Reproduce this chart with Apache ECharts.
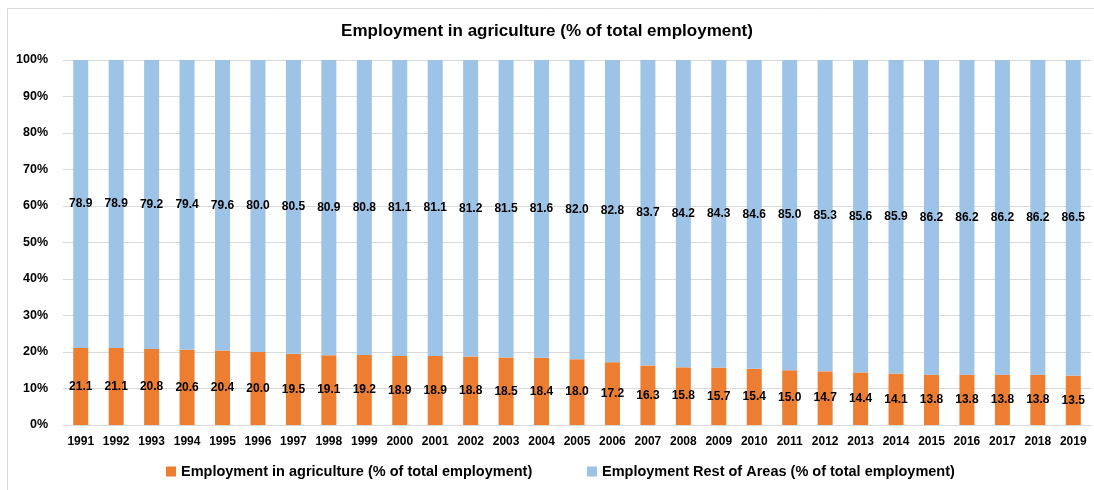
<!DOCTYPE html>
<html>
<head>
<meta charset="utf-8">
<script src="https://cdn.jsdelivr.net/npm/echarts@6/dist/echarts.min.js"></script>
<style>
  html, body { margin: 0; padding: 0; background: #ffffff; }
  #chart { width: 1094px; height: 490px; }
</style>
</head>
<body>
<div id="chart"></div>
<script>
// Years on the category axis
const years = ['1991','1992','1993','1994','1995','1996','1997','1998','1999','2000',
  '2001','2002','2003','2004','2005','2006','2007','2008','2009','2010',
  '2011','2012','2013','2014','2015','2016','2017','2018','2019'];

// Share of employment in agriculture (%)
const agriculture = [21.1, 21.1, 20.8, 20.6, 20.4, 20.0, 19.5, 19.1, 19.2, 18.9,
  18.9, 18.8, 18.5, 18.4, 18.0, 17.2, 16.3, 15.8, 15.7, 15.4,
  15.0, 14.7, 14.4, 14.1, 13.8, 13.8, 13.8, 13.8, 13.5];

// Share of employment in all other areas (%)
const restOfAreas = [78.9, 78.9, 79.2, 79.4, 79.6, 80.0, 80.5, 80.9, 80.8, 81.1,
  81.1, 81.2, 81.5, 81.6, 82.0, 82.8, 83.7, 84.2, 84.3, 84.6,
  85.0, 85.3, 85.6, 85.9, 86.2, 86.2, 86.2, 86.2, 86.5];

const seriesNames = [
  'Employment in agriculture (% of total employment)',
  'Employment Rest of Areas (% of total employment)'
];

const FONT = '"Liberation Sans", Arial, sans-serif';

const chart = echarts.init(document.getElementById('chart'), null, { renderer: 'canvas' });

const labelStyle = {
  show: true,
  position: 'inside',
  color: '#000000',
  fontFamily: FONT,
  fontWeight: 'bold',
  fontSize: 12,
  formatter: p => Number(p.value).toFixed(1)
};

const legendText = { fontFamily: FONT, fontWeight: 'bold', fontSize: 14.5, color: '#000000' };

chart.setOption({
  animation: false,
  backgroundColor: '#ffffff',
  graphic: [{
    type: 'rect',
    shape: { x: 7.5, y: 8.5, width: 1200, height: 600 },
    style: { fill: 'none', stroke: '#d9d9d9', lineWidth: 1 },
    silent: true,
    z: -1
  }],
  title: {
    text: 'Employment in agriculture (% of total employment)',
    left: 'center',
    top: 23,
    padding: 0,
    textStyle: { fontFamily: FONT, fontWeight: 'bold', fontSize: 17, color: '#000000' }
  },
  legend: [
    {
      data: [seriesNames[0]],
      left: 166, top: 464, padding: 0,
      icon: 'rect', itemWidth: 10, itemHeight: 10,
      textStyle: legendText
    },
    {
      data: [seriesNames[1]],
      left: 587, top: 464, padding: 0,
      icon: 'rect', itemWidth: 10, itemHeight: 10,
      textStyle: legendText
    }
  ],
  grid: { left: 63, right: 3, top: 60, bottom: 65, containLabel: false },
  xAxis: {
    type: 'category',
    data: years,
    axisTick: { show: false },
    axisLine: { show: true, lineStyle: { color: '#d9d9d9', width: 1 } },
    axisLabel: {
      interval: 0, margin: 11,
      fontFamily: FONT, fontWeight: 'bold', fontSize: 12, color: '#000000'
    }
  },
  yAxis: {
    type: 'value',
    min: 0, max: 100, interval: 10,
    axisLine: { show: false },
    axisTick: { show: false },
    splitLine: { lineStyle: { color: '#d9d9d9', width: 1 } },
    axisLabel: {
      formatter: '{value}%', margin: 15,
      fontFamily: FONT, fontWeight: 'bold', fontSize: 12.5, color: '#000000'
    }
  },
  series: [
    {
      name: seriesNames[0],
      type: 'bar',
      stack: 'total',
      barWidth: 15,
      data: agriculture,
      itemStyle: { color: '#ed7d31' },
      label: labelStyle
    },
    {
      name: seriesNames[1],
      type: 'bar',
      stack: 'total',
      barWidth: 15,
      data: restOfAreas,
      itemStyle: { color: '#9dc3e6' },
      label: labelStyle
    }
  ]
});
</script>
</body>
</html>
